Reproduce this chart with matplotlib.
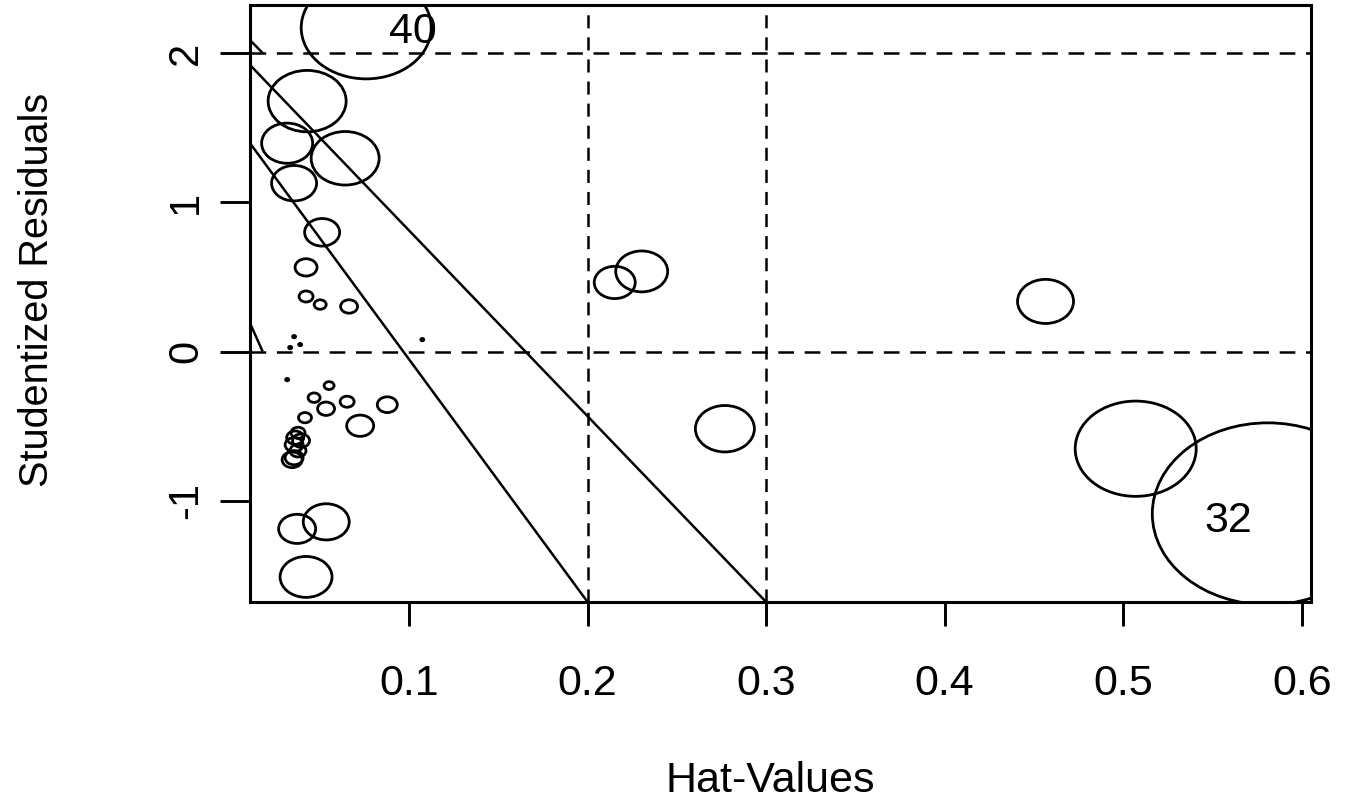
import numpy as np
import matplotlib
matplotlib.use("Agg")
import matplotlib.pyplot as plt
from matplotlib.collections import EllipseCollection

plt.rcParams['font.family'] = ['Liberation Sans', 'DejaVu Sans']
plt.rcParams['lines.scale_dashes'] = False

# ---- data ----
hat = [0.076, 0.0429, 0.0317, 0.0642, 0.0356, 0.0513, 0.0423, 0.0423, 0.0502, 0.0664,
       0.0356, 0.0390, 0.0334, 0.1074, 0.0317,
       0.0552, 0.0468, 0.0653, 0.0535, 0.0878, 0.0417, 0.0726,
       0.0378, 0.0362, 0.0395, 0.0356, 0.0378, 0.0356, 0.0345,
       0.0373, 0.0536, 0.0423,
       0.2152, 0.2303, 0.2769, 0.4565, 0.507, 0.581]
rstudent = [2.17, 1.678, 1.396, 1.295, 1.128, 0.799, 0.564, 0.369, 0.315, 0.302,
            0.10, 0.047, 0.027, 0.08, -0.188,
            -0.228, -0.309, -0.336, -0.383, -0.356, -0.443, -0.497,
            -0.544, -0.577, -0.597, -0.624, -0.664, -0.711, -0.725,
            -1.188, -1.141, -1.51,
            0.463, 0.537, -0.517, 0.336, -0.651, -1.087]
cookd = [0.1584, 0.0570, 0.0244, 0.0433, 0.0190, 0.0115, 0.00453, 0.00184, 0.00135, 0.00271,
         0.000085, 0.000085, 0.000085, 0.000085, 0.000085,
         0.000937, 0.00135, 0.00184, 0.00271, 0.00375, 0.00158, 0.00683,
         0.00184, 0.00271, 0.00271, 0.00304, 0.0024, 0.00304, 0.00375,
         0.01283, 0.0198, 0.0253,
         0.01575, 0.0253, 0.0326, 0.0294, 0.1372, 0.5]
labels = ["40", "32"]
label_x = [0.1024, 0.5586]
label_y = [2.14, -1.134]

hline_y = [-2, 0, 2]
vline_x = [0.2, 0.3]
seg_x = [[0.0109, 0.3], [0.0109, 0.2], [0.0109, 0.018], [0.0109, 0.018]]
seg_y = [[1.92, -1.678], [1.396, -1.678], [2.087, 2.0], [0.19, 0.0]]

xticks = [0.1, 0.2, 0.3, 0.4, 0.5, 0.6]
yticks = [-1, 0, 1, 2]

# ---- figure ----
W, H = 1345, 807
fig = plt.figure(figsize=(W / 100, H / 100), dpi=100)
ax = fig.add_axes([250 / W, 1 - 602 / H, (1311 - 250) / W, (602 - 5) / H])
ax.set_xlim(0.0109, 0.6052)
ax.set_ylim(-1.678, 2.322)

for yv in hline_y:
    ax.axhline(yv, color='black', lw=1.8, linestyle=(0, (11.3, 7.7)))
for xv in vline_x:
    ax.axvline(xv, color='black', lw=1.8, linestyle=(0, (9.4, 6.5)))
for sx, sy in zip(seg_x, seg_y):
    ax.plot(sx, sy, color='black', lw=1.8, solid_capstyle='butt')

# bubbles: diameter proportional to sqrt(Cook's D)
cd = np.asarray(cookd)
wmax = 231.0
widths = wmax * np.sqrt(cd / cd.max())
heights = widths / 1.27
ec = EllipseCollection(widths, heights, np.zeros_like(widths), units='dots',
                       offsets=np.column_stack([hat, rstudent]),
                       offset_transform=ax.transData,
                       facecolors='none', edgecolors='black', linewidths=2.0)
ax.add_collection(ec)

for t, x, y in zip(labels, label_x, label_y):
    ax.text(x, y, t, fontsize=31, ha='center', va='center')

ax.set_xticks(xticks)
ax.set_xticklabels([f"{v:.1f}" for v in xticks])
ax.set_yticks(yticks)
ax.set_yticklabels([str(v) for v in yticks], rotation=90, va='center')
ax.tick_params(axis='x', length=17.3, width=2.1, labelsize=31, pad=27, direction='out')
ax.tick_params(axis='y', length=21.6, width=2.1, labelsize=30, pad=10, direction='out')
for s in ax.spines.values():
    s.set_linewidth(2.2)

fig.text(770 / W, 1 - 781 / H, "Hat-Values", fontsize=31, ha='center', va='center')
fig.text(37 / W, 1 - 290 / H, "Studentized Residuals", fontsize=28.5, ha='center',
         va='center', rotation=90)

fig.savefig("out.png", dpi=100)
